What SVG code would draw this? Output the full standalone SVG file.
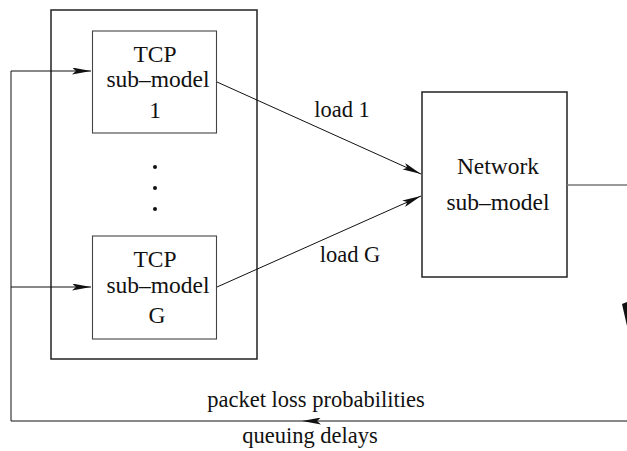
<svg xmlns="http://www.w3.org/2000/svg" width="627" height="451" viewBox="0 0 627 451">
<style>
text{font-family:"Liberation Serif","Times New Roman",serif;font-size:22.5px;fill:#111;text-anchor:middle}
.big{font-size:23.5px}
.box{fill:none;stroke:#222;stroke-width:1.5}
.sub{fill:none;stroke:#444;stroke-width:1.1}
.ln{fill:none;stroke:#111;stroke-width:1}
</style>
<defs>
<marker id="ah" viewBox="0 0 19 7" refX="19" refY="3.5" markerWidth="19" markerHeight="7" markerUnits="userSpaceOnUse" orient="auto">
<path d="M0,0 L19,3.5 L0,7 L4,3.5 Z" fill="#111"/>
</marker>
</defs>
<g id="outer"><rect class="box" x="51" y="10" width="206" height="349"/></g>
<g id="tcp1">
<rect class="sub" x="92.5" y="31" width="124" height="102"/>
<text class="big" x="155" y="62">TCP</text>
<text class="big" x="158" y="87">sub–model</text>
<text class="big" x="155" y="118">1</text>
</g>
<g id="dots" fill="#111">
<circle cx="155" cy="167" r="2"/>
<circle cx="155" cy="188" r="2"/>
<circle cx="155" cy="209" r="2"/>
</g>
<g id="tcpG">
<rect class="sub" x="92.5" y="236" width="124" height="103"/>
<text class="big" x="155" y="267">TCP</text>
<text class="big" x="158" y="293">sub–model</text>
<text class="big" x="157" y="323">G</text>
</g>
<g id="network">
<rect class="box" x="422" y="92" width="145" height="185"/>
<text class="big" x="498" y="174">Network</text>
<text class="big" x="498" y="210">sub–model</text>
</g>
<g id="connectors">
<line class="ln" x1="217" y1="82" x2="421" y2="174" marker-end="url(#ah)"/>
<line class="ln" x1="217" y1="287" x2="421" y2="196" marker-end="url(#ah)"/>
<line x1="567" y1="185" x2="627" y2="185" stroke="#777" stroke-width="1.3"/>
<line class="ln" x1="627" y1="421" x2="302" y2="421" marker-end="url(#ah)"/>
<polyline class="ln" points="302,421 11,421 11,71 91,71" marker-end="url(#ah)"/>
<line class="ln" x1="11" y1="287" x2="91" y2="287" marker-end="url(#ah)"/>
<polygon points="622,304 627,302 627,326" fill="#111"/>
</g>
<g id="labels">
<text x="342" y="117">load 1</text>
<text x="350" y="262">load G</text>
<text x="316" y="407">packet loss probabilities</text>
<text x="310" y="443">queuing delays</text>
</g>
</svg>
